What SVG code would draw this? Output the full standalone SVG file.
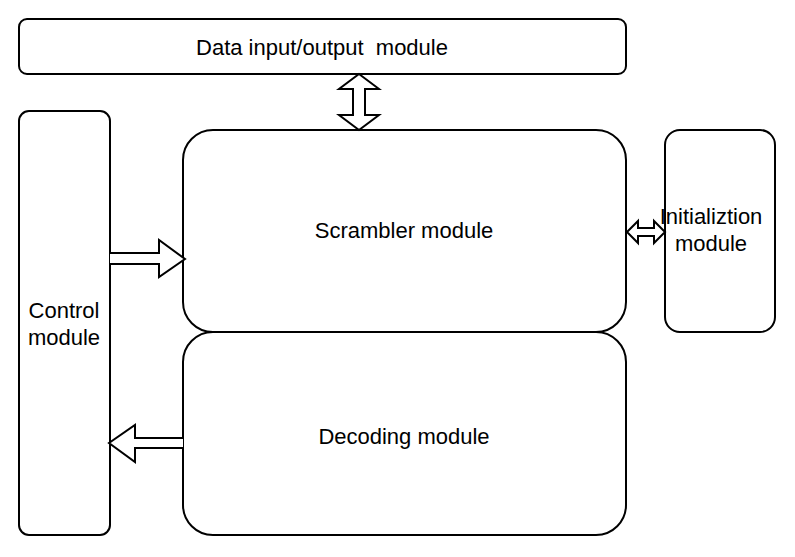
<svg xmlns="http://www.w3.org/2000/svg" width="795" height="557" viewBox="0 0 795 557">
<style>
.box{fill:#fff;stroke:#000;stroke-width:2}
.arr{fill:#fff;stroke:#000;stroke-width:2;stroke-linejoin:miter}
text{font-family:"Liberation Sans",Arial,sans-serif;font-size:22px;fill:#000;text-anchor:middle}
</style>
<rect width="795" height="557" fill="#fff"/>
<g id="io">
<rect class="box" x="19" y="19" width="607" height="55" rx="8"/>
<text x="322" y="55">Data input/output&#160; module</text>
</g>
<g id="control">
<rect class="box" x="19" y="111" width="91" height="424" rx="10"/>
<text x="64" y="318">Control</text>
<text x="64" y="345">module</text>
</g>
<g id="scrambler">
<rect class="box" x="183" y="130" width="443" height="202" rx="30"/>
<text x="404" y="238">Scrambler module</text>
</g>
<g id="decoding">
<rect class="box" x="183" y="332" width="443" height="203" rx="30"/>
<text x="404" y="444">Decoding module</text>
</g>
<g id="init">
<rect class="box" x="665" y="130" width="110" height="202" rx="15"/>
<text x="711" y="224">Initializtion</text>
<text x="711" y="251">module</text>
</g>
<g id="connectors">
<path class="arr" d="M359 74 L379 89 L365 89 L365 115 L379 115 L359 130 L339 115 L353 115 L353 89 L339 89 Z"/>
<path class="arr" d="M110 253 L159 253 L159 240 L185 259 L159 277 L159 264 L110 264"/>
<path class="arr" d="M183 438 L135 438 L135 425 L109 443 L135 462 L135 448 L183 448"/>
<path class="arr" d="M627 232 L638 221 L638 228 L654 228 L654 221 L665 232 L654 243 L654 236 L638 236 L638 243 Z"/>
</g>
</svg>
